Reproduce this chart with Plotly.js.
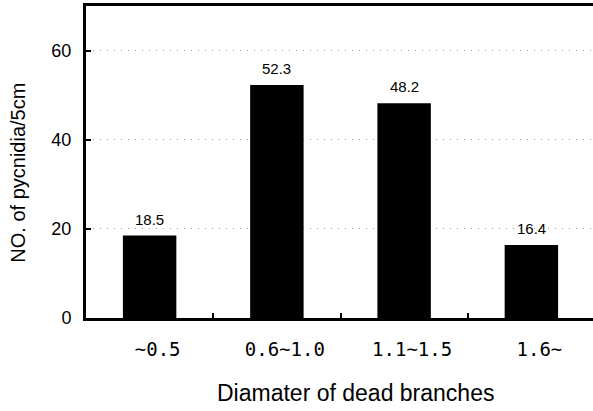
<!DOCTYPE html>
<html>
<head>
<meta charset="utf-8">
<script src="https://cdn.plot.ly/plotly-3.0.1.min.js"></script>
<style>
html,body{margin:0;padding:0;overflow:hidden;background:#fff;}
#chart{width:597px;height:411px;}
</style>
</head>
<body>
<div id="chart"></div>
<script>
var categories = ["~0.5", "0.6~1.0", "1.1~1.5", "1.6~"];
var values = [18.5, 52.3, 48.2, 16.4];
var valueLabels = ["18.5", "52.3", "48.2", "16.4"];
var yTicks = [0, 20, 40, 60];
var xTitle = "Diamater of dead branches";
var yTitle = "NO. of pycnidia/5cm";

var trace = {
  type: "bar",
  x: categories,
  y: values,
  marker: {color: "#000000", line: {width: 0}},
  hoverinfo: "none"
};

var annotations = categories.map(function (c, i) {
  return {
    x: c, y: values[i], xref: "x", yref: "y",
    text: valueLabels[i], showarrow: false,
    yanchor: "bottom", yshift: 6,
    font: {family: "Liberation Sans, Arial, sans-serif", size: 15, color: "#000"}
  };
});
annotations.push({
  xref: "paper", yref: "paper", x: 0.530, y: -0.240,
  xanchor: "center", yanchor: "middle", showarrow: false,
  text: xTitle, font: {size: 23, color: "#000"}
});
annotations.push({
  xref: "paper", yref: "paper", x: -0.134, y: 0.465,
  xanchor: "center", yanchor: "middle", showarrow: false, textangle: -90,
  text: yTitle, font: {size: 20, color: "#000"}
});

var layout = {
  width: 597, height: 411,
  margin: {l: 86, r: 2, t: 6, b: 93},
  paper_bgcolor: "#fff", plot_bgcolor: "#fff",
  bargap: 0.58,
  showlegend: false,
  font: {family: "Liberation Sans, Arial, sans-serif", color: "#000"},
  xaxis: {
    type: "category",
    range: [-0.5, 3.5],
    showline: true, linewidth: 3, linecolor: "#000", mirror: true,
    ticks: "inside", tickson: "boundaries", ticklen: 5, tickwidth: 2, tickcolor: "#000",
    showgrid: false, zeroline: false,
    tickfont: {family: "DejaVu Sans Mono, monospace", size: 19, color: "#000"},
    ticklabelstandoff: 12,
    ticklabelshift: 8
  },
  yaxis: {
    range: [0, 70],
    tickvals: yTicks,
    showline: true, linewidth: 3, linecolor: "#000", mirror: true,
    ticks: "inside", ticklen: 5, tickwidth: 2, tickcolor: "#000",
    showgrid: true, gridcolor: "#9a9a9a", griddash: "1px,6px", gridwidth: 1,
    zeroline: false,
    tickfont: {family: "Liberation Sans, Arial, sans-serif", size: 18, color: "#000"},
    ticklabelstandoff: 8
  },
  annotations: annotations
};

Plotly.newPlot("chart", [trace], layout, {displayModeBar: false, staticPlot: true});
</script>
</body>
</html>
